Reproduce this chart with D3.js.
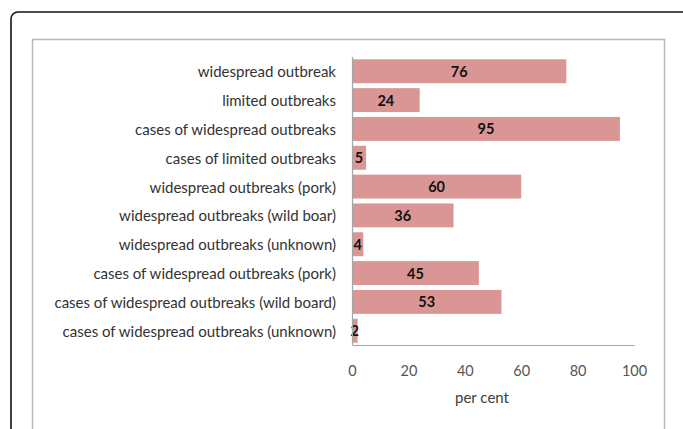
<!DOCTYPE html>
<html>
<head>
<meta charset="utf-8">
<script src="https://cdn.jsdelivr.net/npm/d3@7"></script>
<style>
  html, body { margin: 0; padding: 0; background: #fff; }
  svg { display: block; }
</style>
</head>
<body>
<svg id="chart" width="683" height="429"></svg>
<script>
// Outbreak categories, top to bottom
const categories = [
  "widespread outbreak",
  "limited outbreaks",
  "cases of widespread outbreaks",
  "cases of limited outbreaks",
  "widespread outbreaks (pork)",
  "widespread outbreaks (wild boar)",
  "widespread outbreaks (unknown)",
  "cases of widespread outbreaks (pork)",
  "cases of widespread outbreaks (wild board)",
  "cases of widespread outbreaks (unknown)"
];
// Share of each category, per cent
const values = [76, 24, 95, 5, 60, 36, 4, 45, 53, 2];
const xTicks = [0, 20, 40, 60, 80, 100];
const xTitle = "per cent";

const svg = d3.select("#chart");
const font = "Lato, 'Open Sans', sans-serif";

// Outer rounded frame
svg.append("rect")
  .attr("x", 11).attr("y", 12)
  .attr("width", 690).attr("height", 440)
  .attr("rx", 7)
  .attr("fill", "none")
  .attr("stroke", "#111")
  .attr("stroke-width", 1.6);

// Chart area border
svg.append("rect")
  .attr("x", 32.5).attr("y", 39.5)
  .attr("width", 632).attr("height", 420)
  .attr("fill", "#fff")
  .attr("stroke", "#b8b8b8")
  .attr("stroke-width", 1.5);

const plot = { left: 352, right: 634, top: 57, bottom: 345 };

const x = d3.scaleLinear().domain([0, 100]).range([plot.left, plot.right]);
const y = d3.scaleBand().domain(categories).range([plot.top, plot.bottom]).paddingInner(0.17).paddingOuter(0.08);

const data = categories.map((c, i) => ({ cat: c, val: values[i] }));

// Bars
svg.append("g").selectAll("rect")
  .data(data).join("rect")
  .attr("x", x(0))
  .attr("y", d => y(d.cat))
  .attr("width", d => x(d.val) - x(0))
  .attr("height", y.bandwidth())
  .attr("fill", "#d99694");

// Value labels, centred in each bar
svg.append("g").selectAll("text")
  .data(data).join("text")
  .attr("x", d => (x(0) + x(d.val)) / 2)
  .attr("y", d => y(d.cat) + y.bandwidth() / 2)
  .attr("dy", "0.38em")
  .attr("text-anchor", "middle")
  .attr("font-family", font)
  .attr("font-weight", "bold")
  .attr("font-size", 14.5)
  .attr("fill", "#111")
  .text(d => d.val);

// Category axis
const yAxis = svg.append("g")
  .attr("transform", `translate(${plot.left},0)`)
  .call(d3.axisLeft(y).tickSize(0).tickPadding(16));
yAxis.select(".domain").attr("stroke", "#a6a6a6").attr("stroke-width", 1.2)
  .attr("d", `M0.5,${plot.top}V${plot.bottom}`);
yAxis.selectAll("text")
  .attr("dy", "0.4em")
  .attr("font-family", font)
  .attr("font-size", 15)
  .attr("fill", "#333");

// Value axis
const xAxis = svg.append("g")
  .attr("transform", `translate(0,${plot.bottom})`)
  .call(d3.axisBottom(x).tickValues(xTicks).tickSize(0).tickPadding(21));
xAxis.select(".domain").attr("stroke", "#a6a6a6").attr("stroke-width", 1.2);
xAxis.selectAll("text")
  .attr("font-family", font)
  .attr("font-size", 14.5)
  .attr("fill", "#555");

svg.append("text")
  .attr("x", 482)
  .attr("y", 403)
  .attr("text-anchor", "middle")
  .attr("font-family", font)
  .attr("font-size", 15)
  .attr("fill", "#404040")
  .text(xTitle);
</script>
</body>
</html>
